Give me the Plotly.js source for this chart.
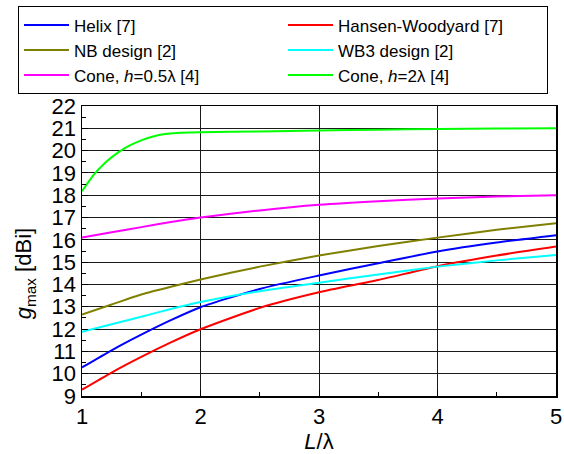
<!DOCTYPE html>
<html>
<head>
<meta charset="utf-8">
<script src="https://cdn.plot.ly/plotly-3.0.1.min.js"></script>
<style>html,body{margin:0;padding:0;background:#fff;}#chart{width:564px;height:454px;}</style>
</head>
<body>
<div id="chart"></div>
<script>
// L/lambda sample positions
const xStd = [1, 1.25, 1.5, 1.75, 2, 2.5, 3, 3.5, 4, 4.5, 5];
const xCone2 = [1, 1.1, 1.2, 1.3, 1.4, 1.5, 1.6, 1.7, 1.8, 2, 2.5, 3, 3.5, 4, 4.5, 5];

// g_max [dBi]
const helix    = [10.28, 11.05, 11.75, 12.4, 12.98, 13.8, 14.4, 14.95, 15.48, 15.88, 16.21];
const hansen   = [9.28, 10.05, 10.75, 11.4, 11.99, 12.95, 13.65, 14.2, 14.82, 15.3, 15.7];
const nb       = [12.65, 13.1, 13.55, 13.9, 14.22, 14.8, 15.3, 15.72, 16.1, 16.45, 16.75];
const wb3      = [11.88, 12.22, 12.55, 12.9, 13.21, 13.7, 14.08, 14.45, 14.8, 15.08, 15.32];
const cone05   = [16.1, 16.34, 16.57, 16.8, 17.0, 17.32, 17.57, 17.73, 17.85, 17.94, 18.0];
const cone2    = [18.18, 18.92, 19.48, 19.9, 20.22, 20.46, 20.63, 20.74, 20.79, 20.82, 20.86, 20.9, 20.94, 20.97, 20.99, 21.0];

const names = ["Helix [7]", "Hansen-Woodyard [7]", "NB design [2]", "WB3 design [2]",
               "Cone, <i>h</i>=0.5λ [4]", "Cone, <i>h</i>=2λ [4]"];
const colors = ["#0000ff", "#ff0000", "#808000", "#00ffff", "#ff00ff", "#00ff00"];
const series = [helix, hansen, nb, wb3, cone05, cone2];
const xs = [xStd, xStd, xStd, xStd, xStd, xCone2];

const traces = series.map((y, i) => ({
  x: xs[i], y: y, name: names[i], type: "scatter", mode: "lines",
  line: {color: colors[i], width: 2, shape: "spline", smoothing: 0.6}
}));

const font = "Liberation Sans, Arial, sans-serif";
const layout = {
  width: 564, height: 454,
  margin: {l: 82, r: 8, t: 105, b: 58},
  paper_bgcolor: "#fff", plot_bgcolor: "#fff",
  font: {family: font, color: "#000"},
  showlegend: true,
  legend: {
    orientation: "h", x: -0.135, xanchor: "left", y: 1.339, yanchor: "top",
    bordercolor: "#000", borderwidth: 1, bgcolor: "#fff",
    font: {family: font, size: 17, color: "#000"},
    entrywidthmode: "pixels", entrywidth: 204, itemwidth: 45,
    traceorder: "normal"
  },
  xaxis: {
    range: [1, 5], tickvals: [1, 2, 3, 4, 5], ticktext: ["1", "2", "3", "4", "5"],
    ticks: "inside", ticklen: 6, tickcolor: "#000",
    minor: {dtick: 0.5, ticks: "inside", ticklen: 4, tickcolor: "#000", showgrid: false},
    showgrid: true, gridcolor: "#1a1a1a", gridwidth: 1,
    showline: true, linecolor: "#000", linewidth: 1.5, mirror: true,
    zeroline: false,
    tickfont: {family: font, size: 22, color: "#000"},
    title: {text: "<i>L</i>/λ", font: {family: font, size: 22, color: "#000"}, standoff: 8}
  },
  yaxis: {
    range: [9, 22], dtick: 1, tick0: 9,
    ticks: "inside", ticklen: 6, tickcolor: "#000",
    minor: {dtick: 0.5, ticks: "inside", ticklen: 4, tickcolor: "#000", showgrid: false},
    showgrid: true, gridcolor: "#1a1a1a", gridwidth: 1,
    showline: true, linecolor: "#000", linewidth: 1.5, mirror: true,
    zeroline: false,
    tickfont: {family: font, size: 22, color: "#000"}
  },
  annotations: [{
    text: "<i>g</i><sub>max</sub> [dBi]", textangle: -90, showarrow: false,
    xref: "paper", yref: "paper", x: -0.12, y: 0.42, xanchor: "center", yanchor: "middle",
    font: {family: font, size: 22, color: "#000"}
  }]
};

Plotly.newPlot("chart", traces, layout, {displayModeBar: false, staticPlot: true});
</script>
</body>
</html>
